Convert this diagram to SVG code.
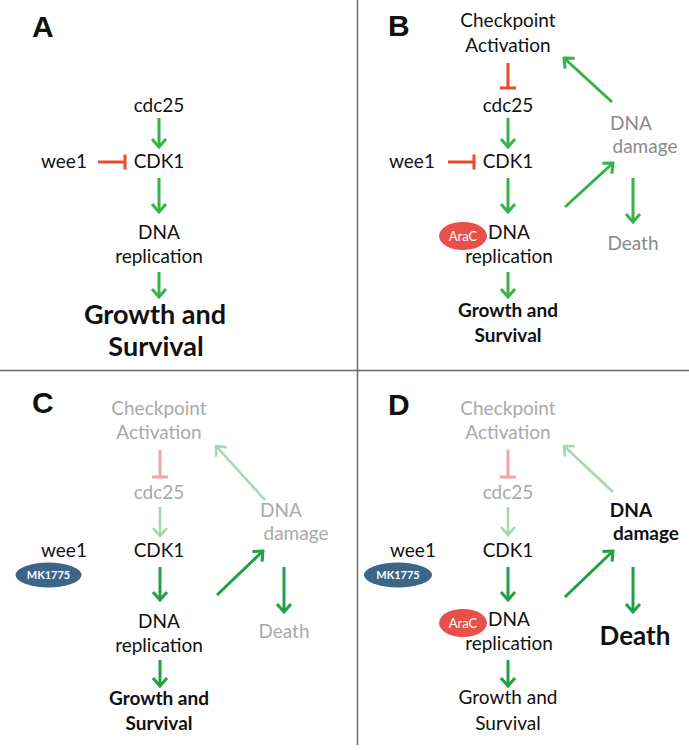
<svg xmlns="http://www.w3.org/2000/svg" width="689" height="750" viewBox="0 0 689 750">
<style>
text{font-family:Lato,"Liberation Sans",sans-serif;text-anchor:middle}
.t{font-size:19px;fill:#111}
.g1{fill:#8a8a8a}
.g2{fill:#a9a9a9}
.b{font-weight:bold}
.lab{font-family:"Liberation Sans",Arial,sans-serif;font-weight:bold;font-size:30px;text-anchor:start;fill:#111}
.ov{font-size:11px;font-weight:bold;fill:#fff}
.ova{font-size:13px;fill:#fff}
.ag{stroke:#35b34a;stroke-width:3;fill:none}
.ad{stroke:#20a043;stroke-width:3;fill:none}
.al{stroke:#9fd9b1;stroke-width:2.5;fill:none}
.ir{stroke:#ec4a2a;stroke-width:3;fill:none}
.ip{stroke:#f4a3a3;stroke-width:3;fill:none}
.div{stroke:#6a6a6a;stroke-width:1.5}
</style>
<defs>
<marker id="hg" markerUnits="userSpaceOnUse" viewBox="-10 -10 12 20" markerWidth="12" markerHeight="20" refX="0" refY="0" orient="auto"><path d="M-8,-7 L0,0 L-8,7" fill="none" stroke="#35b34a" stroke-width="3"/></marker>
<marker id="hd" markerUnits="userSpaceOnUse" viewBox="-10 -10 12 20" markerWidth="12" markerHeight="20" refX="0" refY="0" orient="auto"><path d="M-8,-7 L0,0 L-8,7" fill="none" stroke="#20a043" stroke-width="3"/></marker>
<marker id="hl" markerUnits="userSpaceOnUse" viewBox="-10 -10 12 20" markerWidth="12" markerHeight="20" refX="0" refY="0" orient="auto"><path d="M-8,-7 L0,0 L-8,7" fill="none" stroke="#9fd9b1" stroke-width="2.5"/></marker>
</defs>

<g id="dividers">
<line class="div" x1="0" y1="370.5" x2="689" y2="370.5"/>
<line class="div" x1="357.5" y1="0" x2="357.5" y2="745"/>
</g>

<!-- Panel A -->
<g id="panelA">
<text id="labelA" class="lab" x="32" y="37">A</text>
<g id="A-cdc25"><text class="t" x="159" y="112">cdc25</text></g>
<g id="A-wee1"><text class="t" x="64" y="168">wee1</text></g>
<g id="A-cdk1"><text class="t" x="159" y="168">CDK1</text></g>
<g id="A-dna"><text class="t" x="159" y="239">DNA</text><text class="t" x="159" y="263">replication</text></g>
<g id="A-growth"><text class="t b" style="font-size:27px" x="155" y="324">Growth and</text><text class="t b" style="font-size:27px" x="156" y="356">Survival</text></g>
</g>

<!-- Panel B -->
<g id="panelB">
<text id="labelB" class="lab" x="388" y="36">B</text>
<g id="B-checkpoint"><text class="t" x="508" y="27">Checkpoint</text><text class="t" x="508" y="52">Activation</text></g>
<g id="B-cdc25"><text class="t" x="508" y="112">cdc25</text></g>
<g id="B-wee1"><text class="t" x="412" y="168">wee1</text></g>
<g id="B-cdk1"><text class="t" x="508" y="168">CDK1</text></g>
<g id="B-arac"><ellipse cx="463" cy="236" rx="24" ry="14" fill="#e9504a"/><text class="ova" x="463" y="240.5">AraC</text></g>
<g id="B-dna"><text class="t" x="509" y="239">DNA</text><text class="t" x="509" y="263">replication</text></g>
<g id="B-growth"><text class="t b" x="508" y="317">Growth and</text><text class="t b" x="508" y="342">Survival</text></g>
<g id="B-damage"><text class="t g1" x="631" y="130">DNA</text><text class="t g1" x="645" y="153">damage</text></g>
<g id="B-death"><text class="t g1" x="633" y="250">Death</text></g>
</g>

<!-- Panel C -->
<g id="panelC">
<text id="labelC" class="lab" x="32" y="413">C</text>
<g id="C-checkpoint"><text class="t g2" x="159" y="415">Checkpoint</text><text class="t g2" x="159" y="439">Activation</text></g>
<g id="C-cdc25"><text class="t g2" x="159" y="499">cdc25</text></g>
<g id="C-wee1"><text class="t" x="64" y="557">wee1</text></g>
<g id="C-mk"><ellipse cx="48.5" cy="575" rx="33" ry="12.5" fill="#3d6587"/><text class="ov" x="48.5" y="579">MK1775</text></g>
<g id="C-cdk1"><text class="t" x="159" y="557">CDK1</text></g>
<g id="C-dna"><text class="t" x="159" y="628">DNA</text><text class="t" x="159" y="652">replication</text></g>
<g id="C-growth"><text class="t b" x="159" y="705">Growth and</text><text class="t b" x="159" y="730">Survival</text></g>
<g id="C-damage"><text class="t g2" x="281" y="517">DNA</text><text class="t g2" x="296" y="540">damage</text></g>
<g id="C-death"><text class="t g2" x="284" y="638">Death</text></g>
</g>

<!-- Panel D -->
<g id="panelD">
<text id="labelD" class="lab" x="388" y="415">D</text>
<g id="D-checkpoint"><text class="t g2" x="508" y="415">Checkpoint</text><text class="t g2" x="508" y="439">Activation</text></g>
<g id="D-cdc25"><text class="t g2" x="508" y="499">cdc25</text></g>
<g id="D-wee1"><text class="t" x="413" y="557">wee1</text></g>
<g id="D-mk"><ellipse cx="398" cy="575" rx="34" ry="12.5" fill="#3d6587"/><text class="ov" x="398" y="579">MK1775</text></g>
<g id="D-cdk1"><text class="t" x="508" y="557">CDK1</text></g>
<g id="D-arac"><ellipse cx="463" cy="623" rx="24" ry="14" fill="#e9504a"/><text class="ova" x="463" y="627.5">AraC</text></g>
<g id="D-dna"><text class="t" x="509" y="626">DNA</text><text class="t" x="509" y="650">replication</text></g>
<g id="D-growth"><text class="t" x="508" y="704">Growth and</text><text class="t" x="508" y="730">Survival</text></g>
<g id="D-damage"><text class="t b" x="631" y="517">DNA</text><text class="t b" x="646" y="540">damage</text></g>
<g id="D-death"><text class="t b" style="font-size:26px" x="635" y="645">Death</text></g>
</g>

<g id="connectors">
<!-- A -->
<line class="ag" x1="159" y1="118" x2="159" y2="147" marker-end="url(#hg)"/>
<line class="ir" x1="98" y1="162" x2="125" y2="162"/><line class="ir" x1="125" y1="154.5" x2="125" y2="169.5"/>
<line class="ag" x1="159" y1="178" x2="159" y2="212" marker-end="url(#hg)"/>
<line class="ag" x1="159" y1="272" x2="159" y2="297" marker-end="url(#hg)"/>
<!-- B -->
<line class="ir" x1="508" y1="63" x2="508" y2="88"/><line class="ir" x1="500" y1="88" x2="516" y2="88"/>
<line class="ag" x1="508" y1="118" x2="508" y2="147" marker-end="url(#hg)"/>
<line class="ir" x1="448" y1="162" x2="474" y2="162"/><line class="ir" x1="474" y1="154.5" x2="474" y2="169.5"/>
<line class="ag" x1="508" y1="178" x2="508" y2="212" marker-end="url(#hg)"/>
<line class="ag" x1="508" y1="272" x2="508" y2="297" marker-end="url(#hg)"/>
<line class="ag" x1="565" y1="207" x2="613" y2="163" marker-end="url(#hg)"/>
<line class="ag" x1="612" y1="102" x2="564" y2="58" marker-end="url(#hg)"/>
<line class="ag" x1="633" y1="178" x2="633" y2="222" marker-end="url(#hg)"/>
<!-- C -->
<line class="ip" x1="160" y1="450" x2="160" y2="477"/><line class="ip" x1="152" y1="477" x2="168" y2="477"/>
<line class="al" x1="160" y1="507" x2="160" y2="536" marker-end="url(#hl)"/>
<line class="ad" x1="160" y1="567" x2="160" y2="600" marker-end="url(#hd)"/>
<line class="ad" x1="160" y1="660" x2="160" y2="686" marker-end="url(#hd)"/>
<line class="ad" x1="217" y1="595" x2="263" y2="551" marker-end="url(#hd)"/>
<line class="al" x1="265" y1="500" x2="216" y2="446" marker-end="url(#hl)"/>
<line class="ad" x1="284" y1="567" x2="284" y2="612" marker-end="url(#hd)"/>
<!-- D -->
<line class="ip" x1="508" y1="450" x2="508" y2="477"/><line class="ip" x1="500" y1="477" x2="516" y2="477"/>
<line class="al" x1="508" y1="507" x2="508" y2="535" marker-end="url(#hl)"/>
<line class="ad" x1="508" y1="567" x2="508" y2="600" marker-end="url(#hd)"/>
<line class="ad" x1="508" y1="660" x2="508" y2="686" marker-end="url(#hd)"/>
<line class="ad" x1="565" y1="597" x2="613" y2="551" marker-end="url(#hd)"/>
<line class="al" x1="613" y1="492" x2="564" y2="446" marker-end="url(#hl)"/>
<line class="ad" x1="633" y1="567" x2="633" y2="612" marker-end="url(#hd)"/>
</g>
</svg>
